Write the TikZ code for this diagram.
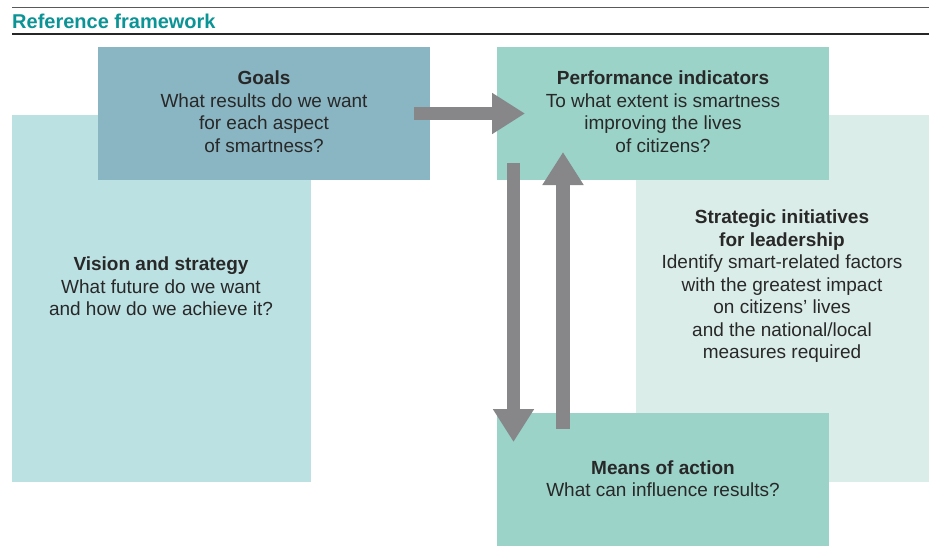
\documentclass[tikz,border=0pt]{standalone}
\usepackage{fontspec}
\setmainfont{Liberation Sans}
\usetikzlibrary{arrows.meta}
\usetikzlibrary{positioning}

\definecolor{visionblue}{RGB}{188,225,227}
\definecolor{goalblue}{RGB}{138,181,194}
\definecolor{indicatorgreen}{RGB}{155,211,200}
\definecolor{initiativegreen}{RGB}{219,237,233}
\definecolor{arrowgray}{RGB}{135,135,138}
\definecolor{titleteal}{RGB}{12,147,150}
\definecolor{inkgray}{RGB}{40,40,40}

\begin{document}
\begin{tikzpicture}[x=1pt, y=-1pt,
  panel/.style={draw=none, inner sep=0, outer sep=0, anchor=north west},
  caption/.style={align=center, text=inkgray, inner sep=0,
    font=\fontsize{19}{22.5}\selectfont},
  flow/.style={draw=arrowgray, line width=13.5pt,
    -{Triangle[length=33pt, width=39pt]}}]
\useasboundingbox (0,0) rectangle (929,557);

\draw [black!65, line width=1pt] (12,7.5) -- (929,7.5);
\node [anchor=base west, inner sep=0, text=titleteal,
  font=\bfseries\fontsize{20}{24}\selectfont] (title) at (12,28.5) {Reference framework};
\draw [black!85, line width=1.3pt] (12,34) -- (929,34);

\node [panel, fill=visionblue, minimum width=299pt, minimum height=367pt] (vision) at (12,115) {};
\node [panel, fill=initiativegreen, minimum width=293pt, minimum height=367pt] (initiatives) at (636,115) {};
\node [panel, fill=goalblue, minimum width=332pt, minimum height=133pt] (goals) at (98,47) {};
\node [panel, fill=indicatorgreen, minimum width=332pt, minimum height=133pt] (indicators) at (497,47) {};
\node [panel, fill=indicatorgreen, minimum width=332pt, minimum height=133pt] (means) at (497,413) {};

\node [caption] (goals-text) at ([yshift=2pt]goals.center)
  {\textbf{Goals}\\What results do we want\\for each aspect\\of smartness?};
\node [caption] (indicators-text) at ([yshift=2pt]indicators.center)
  {\textbf{Performance indicators}\\To what extent is smartness\\improving the lives\\of citizens?};
\node [caption] (vision-text) at (161,286.5)
  {\textbf{Vision and strategy}\\What future do we want\\and how do we achieve it?};
\node [caption] (initiatives-text) at (782,286.5)
  {\textbf{Strategic initiatives}\\\textbf{for leadership}\\Identify smart-related factors\\with the greatest impact\\on citizens’ lives\\and the national/local\\measures required};
\node [caption] (means-text) at ([yshift=1pt]means.center)
  {\textbf{Means of action}\\What can influence results?};

\draw [flow] ([xshift=-16pt]goals.east) -- ([xshift=28pt]indicators.west);
\draw [flow] ([xshift=16.5pt, yshift=17pt]indicators.south west)
  -- ([xshift=16.5pt, yshift=-29pt]means.north west);
\draw [flow] ([xshift=66pt, yshift=-16pt]means.north west)
  -- ([xshift=66pt, yshift=28pt]indicators.south west);
\end{tikzpicture}
\end{document}
